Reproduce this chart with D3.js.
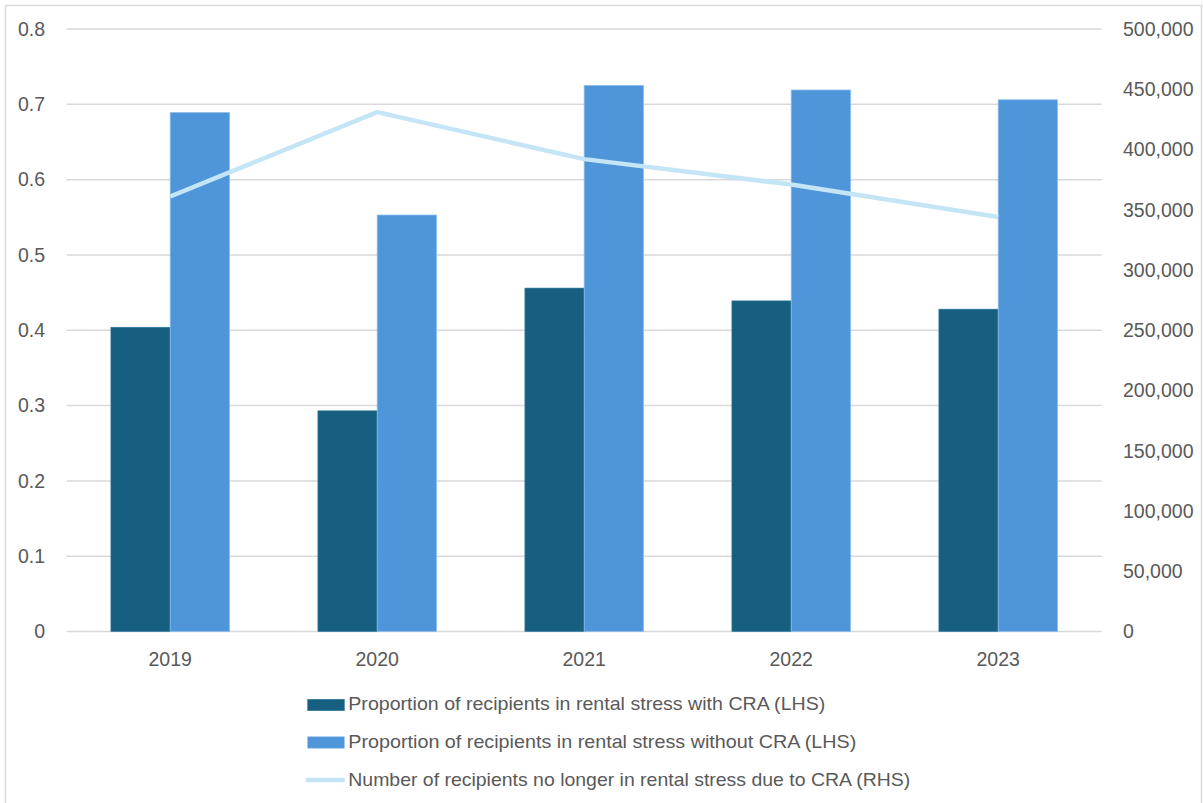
<!DOCTYPE html>
<html>
<head>
<meta charset="utf-8">
<script src="https://cdn.jsdelivr.net/npm/d3@7"></script>
<style>
  html, body { margin: 0; padding: 0; background: #fff; }
  svg { display: block; }
</style>
</head>
<body>
<svg id="chart" width="1203" height="803"></svg>
<script>
// Years on the category axis
const years = ["2019", "2020", "2021", "2022", "2023"];
// Share of recipients in rental stress, with and without Commonwealth Rent Assistance
const withCRA = [0.404, 0.293, 0.456, 0.439, 0.428];
const withoutCRA = [0.689, 0.553, 0.725, 0.719, 0.706];
// Recipients lifted out of rental stress by CRA
const liftedOut = [361000, 431000, 392000, 371000, 344000];
// Axis ticks
const leftTicks = [0, 0.1, 0.2, 0.3, 0.4, 0.5, 0.6, 0.7, 0.8];
const rightTicks = [0, 50000, 100000, 150000, 200000, 250000, 300000, 350000, 400000, 450000, 500000];
// Legend entries
const legendLabels = [
  "Proportion of recipients in rental stress with CRA (LHS)",
  "Proportion of recipients in rental stress without CRA (LHS)",
  "Number of recipients no longer in rental stress due to CRA (RHS)"
];

const colDark = "#175f81";
const colMid = "#4f95d9";
const colLine = "#c4e5f6";
const gridCol = "#d9d9d9";
const textCol = "#595959";
const axisFont = "'Liberation Sans', Arial, sans-serif";
const legendFont = "'Liberation Sans', Arial, sans-serif";

const svg = d3.select("#chart");

// outer chart frame
svg.append("rect")
  .attr("x", 5.5).attr("y", 5.5)
  .attr("width", 1196).attr("height", 810)
  .attr("fill", "none").attr("stroke", "#d9d9d9").attr("stroke-width", 1.5);

const plot = { left: 66.7, right: 1101.7, top: 29, bottom: 631.5 };

const x = d3.scaleBand().domain(years).range([plot.left, plot.right]).paddingInner(0).paddingOuter(0);
const yL = d3.scaleLinear().domain([0, 0.8]).range([plot.bottom, plot.top]);
const yR = d3.scaleLinear().domain([0, 500000]).range([plot.bottom, plot.top]);

// gridlines from the left axis ticks
svg.append("g").selectAll("line").data(leftTicks).join("line")
  .attr("x1", plot.left).attr("x2", plot.right)
  .attr("y1", d => yL(d)).attr("y2", d => yL(d))
  .attr("stroke", gridCol).attr("stroke-width", 1.5);

// left axis labels
const leftAxis = d3.axisLeft(yL).tickValues(leftTicks)
  .tickFormat(d => d === 0 ? "0" : d3.format(".1f")(d)).tickSize(0).tickPadding(0);
const gl = svg.append("g").attr("transform", `translate(45,0)`).call(leftAxis);
gl.select(".domain").remove();
gl.selectAll("text").attr("font-family", axisFont).attr("font-size", 19.5).attr("fill", textCol);

// right axis labels
const rightAxis = d3.axisRight(yR).tickValues(rightTicks)
  .tickFormat(d3.format(",")).tickSize(0).tickPadding(0);
const gr = svg.append("g").attr("transform", `translate(1123,0)`).call(rightAxis);
gr.select(".domain").remove();
gr.selectAll("text").attr("font-family", axisFont).attr("font-size", 19.5).attr("fill", textCol);

// bottom category labels
const bottomAxis = d3.axisBottom(x).tickSize(0).tickPadding(0);
const gb = svg.append("g").attr("transform", `translate(0,${plot.bottom + 21})`).call(bottomAxis);
gb.select(".domain").remove();
gb.selectAll("text").attr("font-family", axisFont).attr("font-size", 19.5).attr("fill", textCol);

// bars
const barW = 59.3;
const bars = svg.append("g");
years.forEach((yr, i) => {
  const cx = x(yr) + x.bandwidth() / 2;
  bars.append("rect")
    .attr("x", cx - barW).attr("width", barW)
    .attr("y", yL(withCRA[i])).attr("height", yL(0) - yL(withCRA[i]))
    .attr("fill", colDark).attr("stroke", "#2a7aa0").attr("stroke-width", 0.6);
  bars.append("rect")
    .attr("x", cx).attr("width", barW)
    .attr("y", yL(withoutCRA[i])).attr("height", yL(0) - yL(withoutCRA[i]))
    .attr("fill", colMid).attr("stroke", "#8cbcec").attr("stroke-width", 0.8);
});

// line on the right axis
const line = d3.line()
  .x((d, i) => x(years[i]) + x.bandwidth() / 2)
  .y(d => yR(d));
svg.append("path").datum(liftedOut)
  .attr("d", line).attr("fill", "none")
  .attr("stroke", colLine).attr("stroke-width", 4.5)
  .attr("stroke-linejoin", "round").attr("stroke-linecap", "butt");

// legend
const legendX = 307.7;
const keyRows = [705, 742.5, 780];
const textRows = [703.5, 741.5, 779];
const legendWidths = [477, 508, 562];
const lg = svg.append("g");
legendLabels.forEach((lab, i) => {
  const cy = keyRows[i];
  if (i < 2) {
    lg.append("rect").attr("x", legendX).attr("y", cy - 5.7)
      .attr("width", 36.6).attr("height", 11.4)
      .attr("fill", i === 0 ? colDark : colMid)
      .attr("stroke", i === 0 ? "#2a7aa0" : "#8cbcec").attr("stroke-width", 0.6);
  } else {
    lg.append("line").attr("x1", legendX - 2).attr("x2", legendX + 37)
      .attr("y1", cy).attr("y2", cy)
      .attr("stroke", colLine).attr("stroke-width", 4.5);
  }
  lg.append("text").attr("x", 348.3).attr("y", textRows[i])
    .attr("dy", "0.36em")
    .attr("font-family", legendFont).attr("font-size", 19)
    .attr("fill", textCol)
    .attr("textLength", legendWidths[i]).attr("lengthAdjust", "spacingAndGlyphs")
    .text(lab);
});
</script>
</body>
</html>
